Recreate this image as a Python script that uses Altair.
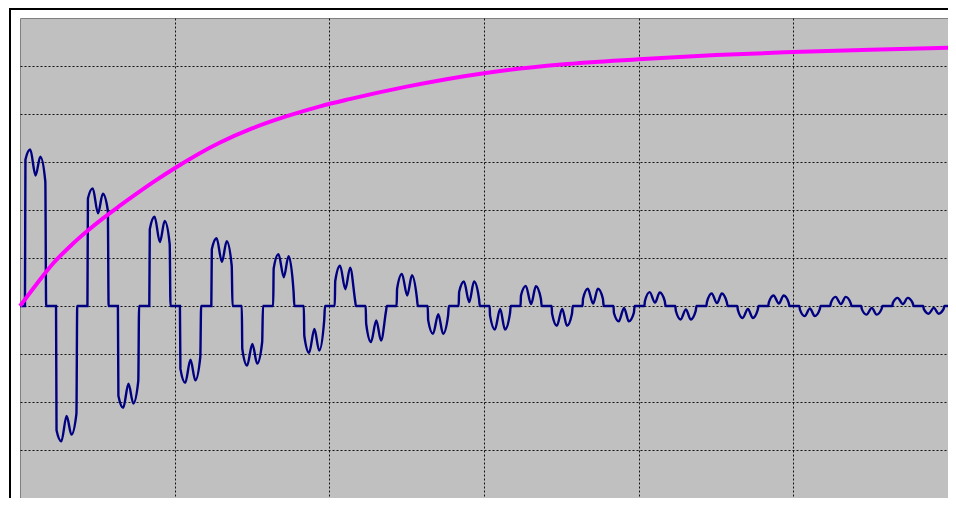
import altair as alt
import pandas as pd

# Pulse start times (x units, 6 grid columns across)
pulse_starts = [0.032, 0.233, 0.436, 0.633, 0.836, 1.034, 1.237, 1.434, 1.637, 1.835,
                2.035, 2.235, 2.435, 2.636, 2.836, 3.036, 3.236, 3.437, 3.637, 3.837,
                4.037, 4.237, 4.438, 4.638, 4.838, 5.039, 5.239, 5.439, 5.640, 5.840]
pulse_sign = [1, -1, 1, -1, 1, -1, 1, -1, 1, -1, 1, -1, 1, -1, 1, -1, 1, -1, 1, -1,
              1, -1, 1, -1, 1, -1, 1, -1, 1, -1]
# Levels of each pulse (y units, one grid row = 1): top corner, first hump, dip, second hump, last corner
lvl_start = [3.05, 2.59, 2.24, 1.87, 1.60, 1.31, 1.18, 0.89, 0.78, 0.62,
             0.52, 0.37, 0.36, 0.30, 0.29, 0.20, 0.22, 0.16, 0.15, 0.145,
             0.10, 0.10, 0.08, 0.08, 0.07, 0.07, 0.06, 0.06, 0.06, 0.06]
lvl_peak1 = [3.26, 2.82, 2.45, 2.12, 1.86, 1.60, 1.41, 1.24, 1.08, 0.975,
             0.84, 0.75, 0.67, 0.58, 0.51, 0.49, 0.42, 0.41, 0.36, 0.32,
             0.29, 0.28, 0.26, 0.25, 0.22, 0.21, 0.19, 0.18, 0.17, 0.16]
lvl_dip = [2.72, 2.29, 1.93, 1.62, 1.33, 1.12, 0.92, 0.79, 0.60, 0.48,
           0.35, 0.30, 0.22, 0.17, 0.08, 0.06, 0.04, 0.06, 0.05, 0.04,
           0.07, 0.07, 0.06, 0.06, 0.05, 0.05, 0.04, 0.04, 0.04, 0.04]
lvl_peak2 = [3.11, 2.68, 2.34, 2.03, 1.77, 1.55, 1.35, 1.20, 1.04, 0.93,
             0.80, 0.72, 0.64, 0.58, 0.51, 0.49, 0.41, 0.41, 0.36, 0.32,
             0.28, 0.28, 0.26, 0.25, 0.22, 0.21, 0.19, 0.18, 0.17, 0.16]
lvl_end = [2.59, 2.24, 1.99, 1.56, 1.29, 1.06, 0.84, 0.75, 0.30, 0.30,
           0.11, 0.10, 0.15, 0.20, 0.15, 0.16, 0.15, 0.16, 0.15, 0.145,
           0.10, 0.10, 0.08, 0.08, 0.07, 0.07, 0.06, 0.06, 0.06, 0.06]
# Time offsets of those points inside a pulse (x units)
pt_offsets = [0.0, 0.0032, 0.0342, 0.0685, 0.0995, 0.1318, 0.1370]

# Magenta rising curve
curve_t = [0, 0.108, 0.215, 0.323, 0.431, 0.538, 0.646, 0.754, 0.861, 1.0, 1.29, 1.5,
           1.72, 1.94, 2.13, 2.5, 3.0, 3.5, 4.0, 4.5, 5.0, 5.5, 6.0]
curve_v = [0, 0.46, 0.89, 1.24, 1.55, 1.83, 2.09, 2.34, 2.58, 2.87, 3.40, 3.70,
           3.95, 4.16, 4.31, 4.57, 4.85, 5.03, 5.14, 5.23, 5.29, 5.34, 5.38]

x_grid = [1, 2, 3, 4, 5]
y_grid = [-3, -2, -1, 0, 1, 2, 3, 4, 5]

wx, wy = [0.0], [0.0]
for k, s in enumerate(pulse_starts):
    sg = pulse_sign[k]
    levels = [0.0, lvl_start[k], lvl_peak1[k], lvl_dip[k], lvl_peak2[k], lvl_end[k], 0.0]
    for o, l in zip(pt_offsets, levels):
        wx.append(s + o)
        wy.append(sg * l)
wx.append(6.0)
wy.append(0.0)
wave_df = pd.DataFrame({"x": wx, "y": wy, "i": list(range(len(wx)))})
curve_df = pd.DataFrame({"x": curve_t, "y": curve_v, "i": list(range(len(curve_t)))})

xs = alt.Scale(domain=[0, 6], nice=False, zero=False)
ys = alt.Scale(domain=[-4, 6], nice=False, zero=False)
xa = alt.Axis(values=x_grid, labels=False, ticks=False, domain=False, grid=True, title=None)
ya = alt.Axis(values=y_grid, labels=False, ticks=False, domain=False, grid=True, title=None)

blue = alt.Chart(wave_df).mark_line(color="#000080", strokeWidth=2.4,
                                    interpolate="monotone").encode(
    x=alt.X("x:Q", scale=xs, axis=xa),
    y=alt.Y("y:Q", scale=ys, axis=ya),
    order="i:Q",
)
mag = alt.Chart(curve_df).mark_line(color="#FF00FF", strokeWidth=4,
                                    interpolate="monotone").encode(
    x=alt.X("x:Q", scale=xs, axis=xa),
    y=alt.Y("y:Q", scale=ys, axis=ya),
    order="i:Q",
)
one = pd.DataFrame({"a": [0]})
left_line = alt.Chart(one).mark_rule(color="black", strokeWidth=2, clip=False).encode(
    x=alt.value(-10), y=alt.value(-10), y2=alt.value(480))
top_line = alt.Chart(one).mark_rule(color="black", strokeWidth=2, clip=False).encode(
    x=alt.value(-11), x2=alt.value(928), y=alt.value(-9))

chart = alt.layer(blue, mag, left_line, top_line).properties(
    width=928, height=480,
    padding={"left": 12, "top": 10, "right": 0, "bottom": 0},
    autosize=alt.AutoSizeParams(type="none"),
    background="white",
).configure_view(
    fill="#C0C0C0", stroke="#808080", strokeWidth=1
).configure_axis(
    gridColor="black", gridDash=[2, 2], gridOpacity=0.9, gridWidth=1
)

chart.save("out.html", embed_options={"renderer": "svg", "actions": False})
